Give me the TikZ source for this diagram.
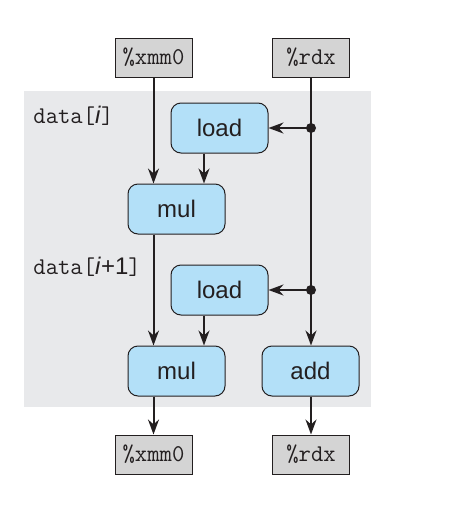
\documentclass[tikz,border=0pt]{standalone}
\usepackage{fontspec}
\setsansfont{Liberation Sans}
\usetikzlibrary{positioning,arrows.meta}
\definecolor{opblue}{HTML}{B3E0F8}
\definecolor{reggray}{HTML}{D4D4D4}
\definecolor{loopgray}{HTML}{E8E9EB}
\definecolor{ink}{HTML}{231F20}
\begin{document}
\begin{tikzpicture}[x=0.5pt, y=-0.5pt, >={Stealth[length=7.5pt,width=5.5pt]}]
    \useasboundingbox (0,0) rectangle (455,520);
    \fill [loopgray] (24,91) rectangle (371,407);

    \tikzset{
        reg/.style={draw=ink, rectangle, fill=reggray, line width=0.5pt, minimum width=38.5pt, minimum height=19.5pt, inner sep=0pt, text=ink, font=\ttfamily\fontsize{12}{14}\selectfont},
        op/.style={draw=ink, rectangle, rounded corners=5pt, fill=opblue, line width=0.5pt, minimum width=48.5pt, minimum height=25pt, inner sep=0pt, text=ink, font=\sffamily\fontsize{12}{14}\selectfont},
        flow/.style={draw=ink, line width=1pt}
    }

    \node [reg] (xmmin) at (153.5,57.5) {\%xmm0};
    \node [reg] (rdxin) at (311,57.5) {\%rdx};
    \node [op] (loadA) at (219.5,128) {load};
    \node [op] (mulA) at (176.5,209) {mul};
    \node [op] (loadB) at (219.5,290) {load};
    \node [op] (mulB) at (176.5,371) {mul};
    \node [op] (add) at (310.5,371) {add};
    \node [reg] (xmmout) at (153.5,454.5) {\%xmm0};
    \node [reg] (rdxout) at (311,454.5) {\%rdx};

    \node [anchor=west, inner sep=0pt, text=ink, font=\fontsize{12}{14}\selectfont] (iterA) at (33,116) {\texttt{data[}\textsf{\itshape i}\texttt{]}};
    \node [anchor=west, inner sep=0pt, text=ink, font=\fontsize{12}{14}\selectfont] (iterB) at (33,267) {\texttt{data[}\textsf{\itshape i}\textsf{+1}\texttt{]}};

    \coordinate (tapA) at (rdxin.south |- loadA.east);
    \coordinate (tapB) at (rdxin.south |- loadB.east);

    \draw [->, flow] (xmmin.south) -- (xmmin.south |- mulA.north);
    \draw [->, flow] (loadA.south -| 204,0) -- (mulA.north -| 204,0);
    \draw [->, flow] (mulA.south -| xmmin.south) -- (mulB.north -| xmmin.south);
    \draw [->, flow] (loadB.south -| 204,0) -- (mulB.north -| 204,0);
    \draw [->, flow] (mulB.south -| xmmin.south) -- (xmmout.north -| xmmin.south);
    \draw [->, flow] (rdxin.south) -- (rdxin.south |- add.north);
    \draw [->, flow] (add.south -| rdxin.south) -- (rdxout.north);
    \draw [->, flow] (tapA) -- (loadA.east);
    \draw [->, flow] (tapB) -- (loadB.east);
    \fill [ink] (tapA) circle (2.5pt);
    \fill [ink] (tapB) circle (2.5pt);
\end{tikzpicture}
\end{document}
